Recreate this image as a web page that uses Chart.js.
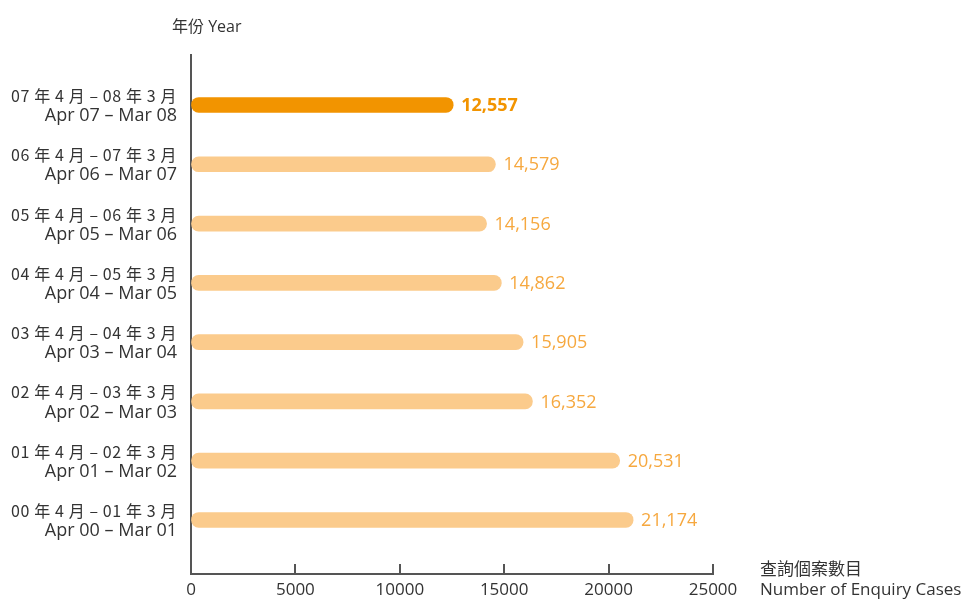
<!DOCTYPE html>
<html>
<head>
<meta charset="utf-8">
<script src="https://cdn.jsdelivr.net/npm/chart.js@4/dist/chart.umd.min.js"></script>
<style>
  html, body { margin: 0; padding: 0; background: #fff; }
  #wrap { width: 963px; height: 599px; }
</style>
</head>
<body>
<div id="wrap"><canvas id="c" width="963" height="599"></canvas></div>
<script>
const categoriesZh = ['07 年 4 月 – 08 年 3 月','06 年 4 月 – 07 年 3 月','05 年 4 月 – 06 年 3 月','04 年 4 月 – 05 年 3 月','03 年 4 月 – 04 年 3 月','02 年 4 月 – 03 年 3 月','01 年 4 月 – 02 年 3 月','00 年 4 月 – 01 年 3 月'];
const categoriesEn = ['Apr 07 – Mar 08','Apr 06 – Mar 07','Apr 05 – Mar 06','Apr 04 – Mar 05','Apr 03 – Mar 04','Apr 02 – Mar 03','Apr 01 – Mar 02','Apr 00 – Mar 01'];
const enquiryCases = [12557, 14579, 14156, 14862, 15905, 16352, 20531, 21174];
const xTicks = [0, 5000, 10000, 15000, 20000, 25000];
const yTitle = '年份 Year';
const xTitleZh = '查詢個案數目';
const xTitleEn = 'Number of Enquiry Cases';

const FONT = "'Open Sans', 'Noto Sans CJK TC', sans-serif";
const CJK_FONT = "'Noto Sans CJK TC', 'Open Sans', sans-serif";
const AXIS = '#555555';
const TEXT = '#333333';
const DARK = '#f29400';
const LIGHT = '#fbcb8c';
const LIGHT_TEXT = '#f6a83f';

const barColors = enquiryCases.map((v, i) => i === 0 ? DARK : LIGHT);

const overlay = {
  id: 'overlay',
  afterDraw(chart) {
    const ctx = chart.ctx;
    const xs = chart.scales.x;
    const ys = chart.scales.y;
    const area = chart.chartArea;
    ctx.save();
    // inward ticks on x axis
    ctx.strokeStyle = AXIS;
    ctx.lineWidth = 2;
    xTicks.forEach(v => {
      if (v === 0) return;
      const px = Math.round(xs.getPixelForValue(v));
      ctx.beginPath();
      ctx.moveTo(px, area.bottom);
      ctx.lineTo(px, area.bottom - 10);
      ctx.stroke();
    });
    // category labels (two lines)
    ctx.fillStyle = TEXT;
    ctx.textAlign = 'right';
    ctx.textBaseline = 'middle';
    categoriesZh.forEach((c, i) => {
      const py = ys.getPixelForValue(i);
      ctx.font = '16px ' + CJK_FONT;
      ctx.letterSpacing = '0.6px';
      ctx.fillText(c, 177, py - 9);
      ctx.font = '18px ' + FONT;
      ctx.letterSpacing = '0px';
      ctx.fillText(categoriesEn[i], 177, py + 11);
    });
    // value labels
    const meta = chart.getDatasetMeta(0);
    ctx.textAlign = 'left';
    meta.data.forEach((bar, i) => {
      ctx.font = (i === 0 ? 'bold ' : '') + '18px ' + FONT;
      ctx.fillStyle = i === 0 ? DARK : LIGHT_TEXT;
      ctx.fillText(enquiryCases[i].toLocaleString('en-US'), bar.x + 8, bar.y + 1);
    });
    // titles
    ctx.fillStyle = TEXT;
    ctx.font = '16px ' + FONT;
    ctx.fillText(yTitle, 172, 27);
    ctx.font = '17px ' + FONT;
    ctx.fillText(xTitleZh, 760, 570);
    ctx.fillText(xTitleEn, 760, 590);
    ctx.restore();
  }
};

new Chart(document.getElementById('c'), {
  type: 'bar',
  data: {
    datasets: [{
      data: enquiryCases.map((v, i) => ({ x: v, y: i })),
      backgroundColor: barColors,
      borderWidth: 0,
      barThickness: 15,
      borderRadius: 7.5,
      borderSkipped: false
    }]
  },
  options: {
    indexAxis: 'y',
    responsive: false,
    animation: false,
    layout: { padding: { top: 55, right: 250, left: 0, bottom: 0 } },
    plugins: { legend: { display: false }, tooltip: { enabled: false } },
    scales: {
      x: {
        type: 'linear',
        min: 0, max: 25000,
        afterBuildTicks: s => { s.ticks = xTicks.map(v => ({ value: v })); },
        afterFit: s => { s.height = 25; s.paddingLeft = 0; s.paddingRight = 0; },
        grid: { drawOnChartArea: false, drawTicks: false },
        border: { color: AXIS, width: 2 },
        ticks: { color: TEXT, font: { family: FONT, size: 17 }, padding: 6, maxRotation: 0,
                 callback: v => String(v) }
      },
      y: {
        type: 'linear',
        reverse: true,
        offset: false,
        min: -0.843, max: 7.911,
        afterBuildTicks: s => { s.ticks = categoriesZh.map((c, i) => ({ value: i })); },
        afterFit: s => { s.width = 191; s.paddingTop = 0; s.paddingBottom = 0; },
        grid: { drawOnChartArea: false, drawTicks: false, offset: false },
        border: { color: AXIS, width: 2 },
        ticks: { display: false }
      }
    }
  },
  plugins: [overlay]
});
</script>
</body>
</html>
